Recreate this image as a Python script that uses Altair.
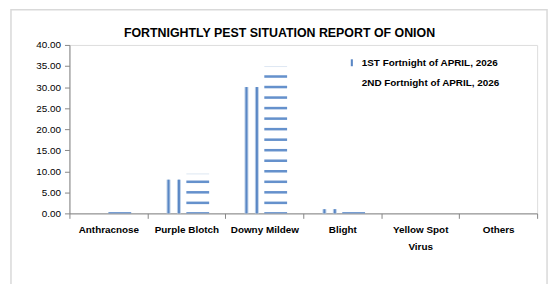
import altair as alt
import numpy as np
import pandas as pd

categories = ["Anthracnose", "Purple Blotch", "Downy Mildew", "Blight", "Yellow Spot Virus", "Others"]
series_names = ["1ST Fortnight of APRIL, 2026", "2ND Fortnight of APRIL, 2026"]
first_values = [0, 8, 30, 1, 0, 0]
second_values = [0.3, 9.5, 35, 0.3, 0, 0]
y_ticks = [0, 5, 10, 15, 20, 25, 30, 35, 40]
title_text = "FORTNIGHTLY PEST SITUATION REPORT OF ONION"

FONT = "Liberation Sans"
BLUE = "#5a87c5"
HALO = "#bcd0e8"
STRIPE = "#6591cc"

df1 = pd.DataFrame({"category": categories, "series": series_names[0], "value": first_values})
df2 = pd.DataFrame({"category": categories, "series": series_names[1], "value": second_values})

# horizontal-stripe pattern rows for the 2nd series (pattern spacing 2.5 units)
rows = []
for c, v in zip(categories, second_values):
    for level in np.arange(0, v, 2.5):
        rows.append({"category": c, "lo": max(level - 0.3, 0.0), "hi": min(level + 0.3, v)})
stripes = pd.DataFrame(rows)
tops = df2[df2["value"] > 2]

x_enc = alt.X(
    "category:N",
    sort=categories,
    scale=alt.Scale(domain=categories, paddingInner=0, paddingOuter=0),
    axis=alt.Axis(
        title=None,
        labelAngle=0,
        labelFont=FONT,
        labelFontSize=10,
        labelFontWeight="bold",
        labelColor="#000000",
        labelPadding=6,
        labelLineHeight=17,
        labelLimit=200,
        labelExpr="datum.label == 'Yellow Spot Virus' ? ['Yellow Spot', 'Virus'] : datum.label",
        tickBand="extent",
        tickSize=5,
        tickColor="#868686",
        domainColor="#868686",
        labelBaseline="top",
    ),
)
y_scale = alt.Scale(domain=[0, 40], nice=False)
y_axis = alt.Axis(
    title=None,
    values=y_ticks,
    format=".2f",
    labelFont=FONT,
    labelFontSize=10,
    labelColor="#000000",
    labelPadding=4,
    tickSize=5,
    tickColor="#868686",
    domainColor="#868686",
    grid=False,
)

one = pd.DataFrame({"a": [0]})
border = alt.Chart(one).mark_rect(
    fill="white", fillOpacity=0, stroke="#d9d9d9", strokeWidth=1.5
).encode(
    x=alt.value(-59), x2=alt.value(482), y=alt.value(-35.5), y2=alt.value(300)
)
title = alt.Chart(one).mark_text(
    text=title_text, font=FONT, fontSize=12.5, fontWeight="bold", color="#000000",
    align="center", baseline="middle"
).encode(x=alt.value(212), y=alt.value(-12))

color_enc = alt.Color(
    "series:N",
    scale=alt.Scale(domain=series_names, range=[BLUE, "#ffffff"]),
    legend=alt.Legend(
        title=None,
        orient="none",
        legendX=280,
        legendY=13,
        symbolType="M-0.3,-1H0.3V1H-0.3Z",
        symbolSize=49,
        symbolStrokeWidth=0,
        labelFont=FONT,
        labelFontSize=10,
        labelFontWeight="bold",
        labelColor="#000000",
        labelOffset=5,
        rowPadding=10,
        padding=0,
    ),
)

layers = [border, title]
for off in (-18, -7.5):
    layers.append(
        alt.Chart(df1).mark_bar(width=4, xOffset=off, color=HALO).encode(
            x=x_enc, y=alt.Y("value:Q", scale=y_scale, axis=y_axis)
        )
    )
    layers.append(
        alt.Chart(df1).mark_bar(width=2, xOffset=off).encode(
            x=x_enc, y=alt.Y("value:Q", scale=y_scale, axis=y_axis), color=color_enc
        )
    )

layers.append(
    alt.Chart(tops).transform_calculate(v2="datum.value - 0.25").mark_bar(
        width=23, xOffset=11.5, color="#dfe8f3"
    ).encode(
        x=x_enc, y=alt.Y("value:Q", scale=y_scale, axis=y_axis), y2="v2:Q"
    )
)
layers.append(
    alt.Chart(stripes).mark_bar(width=23, xOffset=11.5, color=STRIPE).encode(
        x=x_enc, y=alt.Y("lo:Q", scale=y_scale, axis=y_axis), y2="hi:Q"
    )
)

chart = alt.layer(*layers).properties(
    width=472,
    height=170,
    padding={"left": 62, "top": 36, "right": 14, "bottom": 70},
    autosize=alt.AutoSizeParams(type="none"),
).configure_view(stroke=None).configure(background="white")

chart.save("out.html", embed_options={"renderer": "svg", "actions": False})
